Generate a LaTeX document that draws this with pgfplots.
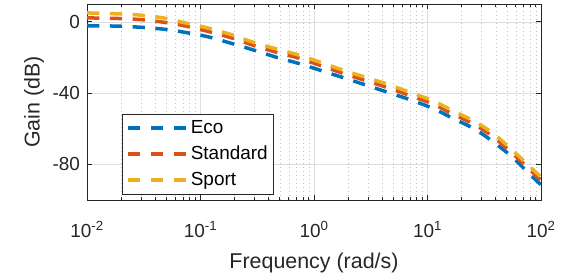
\documentclass[border=0pt]{standalone}
\usepackage{fontspec}
\setmainfont{Liberation Sans}
\usepackage{pgfplots}
\usepackage{pgfplotstable}
\pgfplotsset{compat=1.18}
\definecolor{mEco}{rgb}{0,0.447,0.741}
\definecolor{mStd}{rgb}{0.85,0.325,0.098}
\definecolor{mSport}{rgb}{0.929,0.694,0.125}
\definecolor{axgray}{rgb}{0.15,0.15,0.15}
\pgfplotstableread{
f        eco    std    sport
0.01     -2.2   2.2    5.0
0.01803  -2.4   1.9    4.5
0.02871  -3.0   1.3    3.8
0.04677  -4.1  -0.2    2.2
0.07447  -6.0  -2.4   -0.7
0.1164   -8.4  -5.4   -3.5
0.1897  -12.2  -9.1   -7.3
0.2958  -15.9 -13.3  -11.6
0.4721  -20.0 -17.2  -15.3
0.7379  -23.4 -20.4  -18.7
1.175   -27.5 -24.8  -23.0
1.803   -31.3 -28.9  -27.1
2.871   -35.5 -33.0  -31.2
4.487   -39.6 -37.0  -35.1
7.161   -43.9 -41.6  -39.8
11.17   -48.6 -46.1  -44.3
16.79   -54.2 -51.8  -50.0
26.24   -60.3 -57.8  -56.0
38.55   -67.7 -64.9  -63.0
55.46   -75.7 -73.5  -71.8
78.34   -85.1 -82.5  -80.8
100     -91.5 -88.9  -87.1
}\gaindata
\begin{document}
\begin{tikzpicture}
\useasboundingbox (0,0) rectangle (571bp,279bp);
\begin{axis}[
  at={(87bp,79bp)}, anchor=south west,
  scale only axis, width=454bp, height=196bp,
  xmode=log, xmin=0.01, xmax=100, ymin=-100, ymax=10,
  xtick={0.01,0.1,1,10,100},
  xticklabels={10\textsuperscript{-2},10\textsuperscript{-1},10\textsuperscript{0},10\textsuperscript{1},10\textsuperscript{2}},
  minor xtick={0.02,0.03,0.04,0.05,0.06,0.07,0.08,0.09,0.2,0.3,0.4,0.5,0.6,0.7,0.8,0.9,2,3,4,5,6,7,8,9,20,30,40,50,60,70,80,90},
  ytick={-80,-40,0}, yticklabels={-80,-40,0},
  minor ytick={},
  xmajorgrids, ymajorgrids, xminorgrids,
  major grid style={line width=0.6bp, color=black!13},
  minor grid style={line width=0.6bp, color=black!25, dash pattern=on 1bp off 3bp},
  tick align=inside,
  major tick length=5bp, minor tick length=3bp,
  axis line style={axgray, line width=0.8bp},
  tick style={axgray, line width=0.8bp},
  tick label style={font=\fontsize{19}{22}\selectfont, text=axgray},
  xticklabel style={anchor=base, yshift=-37bp},
  yticklabel style={xshift=-3.5bp},
  label style={font=\fontsize{21.5}{25}\selectfont, text=axgray},
  xlabel={Frequency (rad/s)},
  ylabel={Gain (dB)},
  xlabel style={at={(axis description cs:0.5,-0.347)}, anchor=base},
  ylabel style={at={(axis description cs:-0.1046,0.5)}, anchor=base},
  legend style={at={(0.077,0.44)}, anchor=north west, draw=axgray, line width=0.8bp,
    fill=white, font=\fontsize{19}{22}\selectfont, text=black,
    inner xsep=4bp, inner ysep=3bp, row sep=4bp,
    nodes={inner sep=2bp, text height=14bp, text depth=4bp}},
  legend cell align=left,
  legend image code/.code={\draw[#1] (0bp,0bp) -- (59bp,0bp);},
]
\addplot[mEco, line width=3.5bp, dash pattern=on 12.3bp off 10.5bp, smooth] table[x=f,y=eco] {\gaindata};
\addlegendentry{Eco}
\addplot[mStd, line width=3.5bp, dash pattern=on 12.3bp off 10.5bp, smooth] table[x=f,y=std] {\gaindata};
\addlegendentry{Standard}
\addplot[mSport, line width=3.5bp, dash pattern=on 12.3bp off 10.5bp, smooth] table[x=f,y=sport] {\gaindata};
\addlegendentry{Sport}
\end{axis}
\end{tikzpicture}
\end{document}
